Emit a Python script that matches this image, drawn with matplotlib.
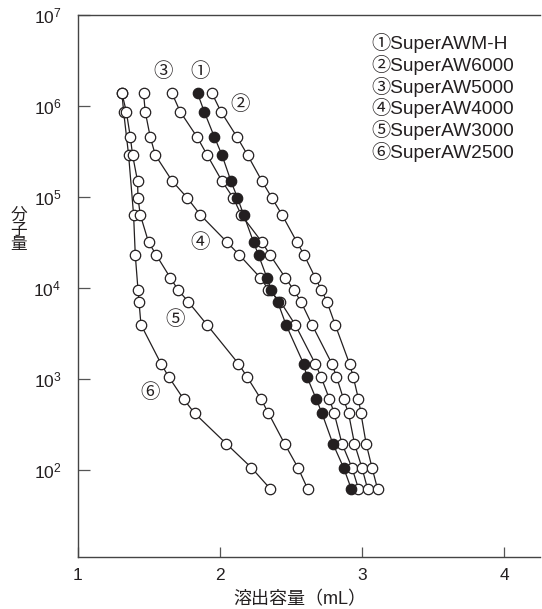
import numpy as np
import matplotlib
matplotlib.use("Agg")
import matplotlib.pyplot as plt
from matplotlib.ticker import NullLocator

plt.rcParams['font.family'] = ['Liberation Sans', 'Noto Sans CJK JP', 'DejaVu Sans']

# molecular weight standards (shared levels)
mw = [1390000, 870000, 460000, 290000, 150000, 98000, 64000, 32000, 23000, 13000,
      9600, 7100, 3950, 1470, 1060, 600, 420, 194, 106, 62]

# elution volume (mL) of each column
v_awm_h = [1.841, 1.888, 1.959, 2.013, 2.076, 2.122, 2.165, 2.235, 2.270, 2.329,
           2.359, 2.404, 2.463, 2.587, 2.610, 2.676, 2.716, 2.793, 2.868, 2.922]
v_aw6000 = [1.942, 2.006, 2.118, 2.193, 2.294, 2.364, 2.435, 2.540, 2.591, 2.669,
            2.711, 2.751, 2.809, 2.910, 2.936, 2.973, 2.990, 3.027, 3.068, 3.107]
v_aw5000 = [1.661, 1.719, 1.837, 1.909, 2.013, 2.092, 2.148, 2.294, 2.352, 2.458,
            2.516, 2.568, 2.646, 2.786, 2.818, 2.868, 2.903, 2.945, 2.997, 3.037]
v_aw4000 = [1.461, 1.473, 1.508, 1.544, 1.663, 1.769, 1.860, 2.048, 2.136, 2.282,
            2.340, 2.423, 2.528, 2.669, 2.709, 2.769, 2.802, 2.857, 2.927, 2.973]
v_aw3000 = [1.309, 1.340, 1.368, 1.384, 1.419, 1.422, 1.438, 1.496, 1.551, 1.649,
            1.703, 1.774, 1.907, 2.129, 2.188, 2.287, 2.340, 2.453, 2.547, 2.615]
mw_aw2500 = [1390000, 870000, 290000, 64000, 23000, 9600, 7100, 3950, 1470, 1060,
             600, 420, 194, 106, 62]
v_aw2500 = [1.309, 1.321, 1.356, 1.391, 1.403, 1.422, 1.429, 1.443, 1.584, 1.637,
            1.743, 1.820, 2.043, 2.219, 2.352]

legend_lines = ["①SuperAWM-H", "②SuperAW6000", "③SuperAW5000",
                "④SuperAW4000", "⑤SuperAW3000", "⑥SuperAW2500"]

fig = plt.figure(figsize=(5.42, 6.09), dpi=100)
ax = fig.add_axes([78 / 542, 52 / 609, 462 / 542, 541.7 / 609])

lc = '#231f20'
open_kw = dict(color=lc, lw=0.9, marker='o', ms=7.5, mfc='white', mec=lc, mew=0.9)
for v, m in [(v_aw2500, mw_aw2500), (v_aw3000, mw), (v_aw4000, mw),
             (v_aw5000, mw), (v_aw6000, mw)]:
    ax.plot(v, m, **open_kw)
ax.plot(v_awm_h, mw, color=lc, lw=0.9, marker='o', ms=7.5, mfc=lc, mec=lc, mew=0.9)

ax.set_yscale('log')
ax.set_xlim(1, 4.25)
ax.set_ylim(11, 1e7)
ax.set_xticks([1, 2, 3, 4])
ax.set_xticklabels(['1', '2', '3', '4'])
ax.set_yticks([1e2, 1e3, 1e4, 1e5, 1e6, 1e7])
ax.yaxis.set_minor_locator(NullLocator())
ax.tick_params(axis='y', direction='in', length=8.5, width=0.9, color='#555555',
               pad=12, labelsize=12.5, labelcolor='#231f20')
ax.tick_params(axis='x', direction='in', length=7, width=0.9, color='#555555',
               pad=8, labelsize=12.5, labelcolor='#231f20')
ax.spines['right'].set_visible(False)
for s in ['left', 'top', 'bottom']:
    ax.spines[s].set_color('#444444')
    ax.spines[s].set_linewidth(1.0)

ax.set_xlabel('溶出容量（mL）', fontsize=13, color='#231f20')
ax.xaxis.set_label_coords(0.48, -0.062)
fig.text(19 / 542, 1 - 230 / 609, '分\n子\n量', fontsize=12, color='#231f20',
         ha='center', va='center', linespacing=0.95)

# curve numbers inside the plot
marks = [('③', 1.600, 2.38e6), ('①', 1.860, 2.38e6), ('②', 2.141, 1.03e6),
         ('④', 1.860, 3.15e4), ('⑤', 1.684, 4.5e3), ('⑥', 1.508, 7.0e2)]
for t, x, y in marks:
    ax.text(x, y, t, fontsize=14, ha='center', va='center', color='#231f20')

for i, t in enumerate(legend_lines):
    fig.text(371 / 542, 1 - (43 + 21.8 * i) / 609, t, fontsize=13.8,
             ha='left', va='center', color='#231f20')

fig.savefig('out.png', dpi=100)
